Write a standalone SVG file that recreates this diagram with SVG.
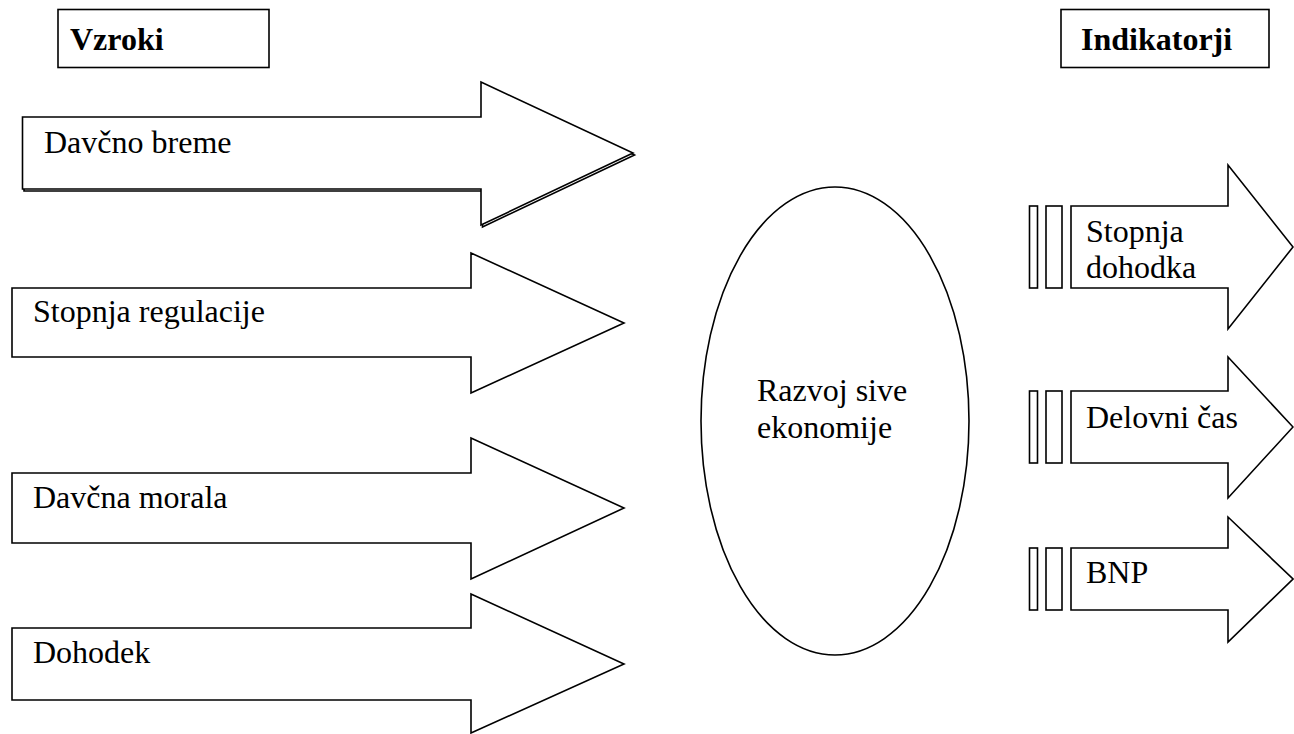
<svg xmlns="http://www.w3.org/2000/svg" width="1294" height="734" viewBox="0 0 1294 734">
  <style>
    .shape { fill: #ffffff; stroke: #000000; stroke-width: 1.6; stroke-linejoin: miter; }
    .shadow { fill: none; stroke: #000000; stroke-width: 1.6; }
    .label { font-family: 'Times New Roman', 'Liberation Serif', 'DejaVu Serif', serif; font-size: 32px; fill: #000000; }
    .title { font-weight: bold; }
  </style>
  <rect width="1294" height="734" fill="#ffffff"/>

  <!-- column headers -->
  <g id="header-vzroki">
    <rect class="shape" x="58" y="9.5" width="211" height="58" stroke-width="2"/>
    <text class="label title" x="70" y="50">Vzroki</text>
  </g>
  <g id="header-indikatorji">
    <rect class="shape" x="1061" y="9.5" width="208" height="58" stroke-width="2"/>
    <text class="label title" x="1081" y="50">Indikatorji</text>
  </g>

  <!-- causes: block arrows pointing to the centre -->
  <g id="cause-davcno-breme">
    <polygon class="shadow" transform="translate(1.5,2)" points="22.5,117 481,117 481,82 633,153 481,225 481,189 22.5,189"/>
    <polygon class="shape" points="22.5,117 481,117 481,82 633,153 481,225 481,189 22.5,189"/>
    <text class="label" x="44" y="153">Davčno breme</text>
  </g>
  <g id="cause-stopnja-regulacije">
    <polygon class="shape" points="12,288 471,288 471,253 624,323 471,393 471,357 12,357"/>
    <text class="label" x="33" y="322">Stopnja regulacije</text>
  </g>
  <g id="cause-davcna-morala">
    <polygon class="shape" points="12,473 471,473 471,438 624,508 471,579 471,543 12,543"/>
    <text class="label" x="33" y="508">Davčna morala</text>
  </g>
  <g id="cause-dohodek">
    <polygon class="shape" points="12,628 471,628 471,594 624,664 471,733 471,700 12,700"/>
    <text class="label" x="33" y="663">Dohodek</text>
  </g>

  <!-- central phenomenon -->
  <g id="razvoj-sive-ekonomije">
    <ellipse class="shape" cx="835" cy="421" rx="134" ry="234"/>
    <text class="label" x="757" y="401">Razvoj sive</text>
    <text class="label" x="757" y="438">ekonomije</text>
  </g>

  <!-- indicators: striped block arrows -->
  <g id="indikator-stopnja-dohodka">
    <rect class="shape" x="1029.5" y="206" width="8" height="82"/>
    <rect class="shape" x="1046" y="206" width="16" height="82"/>
    <polygon class="shape" points="1071,206 1228,206 1228,165 1293,247 1228,329 1228,288 1071,288"/>
    <text class="label" x="1086" y="242">Stopnja</text>
    <text class="label" x="1086" y="278">dohodka</text>
  </g>
  <g id="indikator-delovni-cas">
    <rect class="shape" x="1029.5" y="391" width="8" height="72"/>
    <rect class="shape" x="1046" y="391" width="16" height="72"/>
    <polygon class="shape" points="1071,391 1228,391 1228,357 1293,427 1228,498 1228,463 1071,463"/>
    <text class="label" x="1086" y="428">Delovni čas</text>
  </g>
  <g id="indikator-bnp">
    <rect class="shape" x="1029.5" y="548" width="8" height="62"/>
    <rect class="shape" x="1046" y="548" width="16" height="62"/>
    <polygon class="shape" points="1071,548 1228,548 1228,517 1293,579 1228,642 1228,610 1071,610"/>
    <text class="label" x="1086" y="583">BNP</text>
  </g>

  <!-- the block arrows carry the relations themselves, so no separate lines -->
  <g id="connectors"/>
</svg>
